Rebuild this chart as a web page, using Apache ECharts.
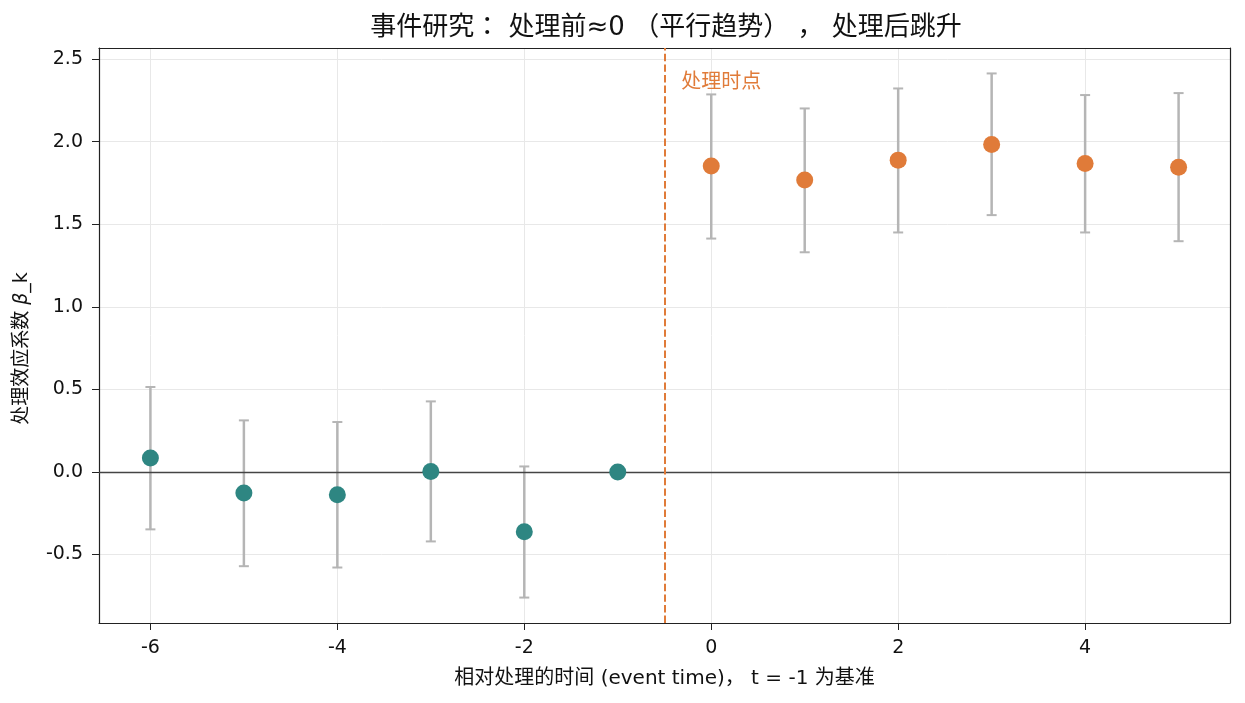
<!DOCTYPE html>
<html>
<head>
<meta charset="utf-8">
<script src="https://cdn.jsdelivr.net/npm/echarts@6/dist/echarts.min.js"></script>
<style>
  html, body { margin: 0; padding: 0; background: #fff; }
  #chart { width: 1245px; height: 703px; }
</style>
</head>
<body>
<div id="chart"></div>
<script>
// 事件时间与估计系数（t = -1 为基准）
const eventTimes = [-6, -5, -4, -3, -2, -1, 0, 1, 2, 3, 4, 5];
const coefs = [0.084, -0.128, -0.138, 0.003, -0.363, 0, 1.852, 1.767, 1.888, 1.983, 1.868, 1.845];
const ciLow = [-0.348, -0.571, -0.579, -0.421, -0.761, null, 1.413, 1.330, 1.450, 1.555, 1.450, 1.397];
const ciHigh = [0.514, 0.312, 0.302, 0.427, 0.033, null, 2.286, 2.201, 2.322, 2.413, 2.282, 2.294];
const xTicks = [-6, -4, -2, 0, 2, 4];
const yTicks = [-0.5, 0, 0.5, 1, 1.5, 2, 2.5];
const treatTime = -0.5;
const treatLabel = '处理时点';
const treatLabelPos = [-0.3, 2.3];

const FONT = '"DejaVu Sans", "Noto Sans CJK JP", sans-serif';
const TEAL = '#2e8682';
const ORANGE = '#e07b39';

const chart = echarts.init(document.getElementById('chart'));

const preData = [];
const postData = [];
const errData = [];
eventTimes.forEach((t, i) => {
  (t < 0 ? preData : postData).push([t, coefs[i]]);
  if (ciLow[i] !== null) errData.push([t, ciLow[i], ciHigh[i]]);
});

const boxAxis = {
  min: -6.55, max: 5.55,
  axisLine: { show: true, onZero: false, lineStyle: { color: '#222', width: 1.2 } },
  axisTick: { show: false }, axisLabel: { show: false }, splitLine: { show: false }
};

const option = {
  animation: false,
  textStyle: { fontFamily: FONT },
  title: {
    text: '事件研究： 处理前≈0 （平行趋势） ， 处理后跳升',
    left: 661, top: 10, textAlign: 'center',
    textStyle: { fontFamily: FONT, fontSize: 26, fontWeight: 'normal', color: '#111' }
  },
  grid: { left: 99, right: 15, top: 48, bottom: 80 },
  xAxis: [{
    type: 'value', min: -6.55, max: 5.55,
    name: '相对处理的时间 (event time)， t = -1 为基准',
    nameLocation: 'middle', nameGap: 46,
    nameTextStyle: { fontFamily: FONT, fontSize: 20, color: '#111' },
    axisLine: { show: true, onZero: false, lineStyle: { color: '#222', width: 1.2 } },
    axisTick: { show: true, length: 7, customValues: xTicks, lineStyle: { color: '#222' } },
    axisLabel: { customValues: xTicks, fontSize: 19, color: '#111', margin: 16 },
    splitLine: { show: true, lineStyle: { color: '#e8e8e8', width: 1 } }
  }, Object.assign({ type: 'value', position: 'top' }, boxAxis)],
  yAxis: [{
    type: 'value', min: -0.915, max: 2.567,
    name: '处理效应系数 {it|β}_k',
    nameLocation: 'middle', nameGap: 67,
    nameTextStyle: { fontFamily: FONT, fontSize: 19, color: '#111', padding: [0, 26, 0, 0],
      rich: { it: { fontStyle: 'italic', fontSize: 19, fontFamily: FONT } } },
    axisLine: { show: true, onZero: false, lineStyle: { color: '#222', width: 1.2 } },
    axisTick: { show: true, length: 7, customValues: yTicks, lineStyle: { color: '#222' } },
    axisLabel: { customValues: yTicks, fontSize: 19, color: '#111', margin: 16,
      formatter: v => v.toFixed(1) },
    splitLine: { show: true, lineStyle: { color: '#e8e8e8', width: 1 } }
  }, Object.assign({ type: 'value', position: 'right' }, boxAxis, { min: -0.915, max: 2.567 })],
  series: [
    {
      type: 'custom', name: 'ci', z: 2,
      encode: { x: 0, y: [1, 2] },
      data: errData,
      renderItem: (params, api) => {
        const x = api.value(0);
        const lo = api.coord([x, api.value(1)]);
        const hi = api.coord([x, api.value(2)]);
        const cap = 5;
        const style = { stroke: '#b5b5b5', lineWidth: 2.5 };
        return {
          type: 'group',
          children: [
            { type: 'line', shape: { x1: lo[0], y1: lo[1], x2: hi[0], y2: hi[1] }, style },
            { type: 'line', shape: { x1: lo[0] - cap, y1: lo[1], x2: lo[0] + cap, y2: lo[1] }, style: { stroke: '#b5b5b5', lineWidth: 2 } },
            { type: 'line', shape: { x1: hi[0] - cap, y1: hi[1], x2: hi[0] + cap, y2: hi[1] }, style: { stroke: '#b5b5b5', lineWidth: 2 } }
          ]
        };
      },
      markLine: {
        silent: true, symbol: 'none', label: { show: false },
        data: [
          { yAxis: 0, lineStyle: { color: '#444', width: 1.3, type: 'solid' } },
          { xAxis: treatTime, lineStyle: { color: ORANGE, width: 2, type: [7.4, 3.2] } }
        ]
      },
      markPoint: {
        silent: true, symbol: 'circle', symbolSize: 0,
        data: [{ coord: treatLabelPos, value: treatLabel }],
        label: {
          show: true, position: [-2, -19], formatter: treatLabel,
          color: ORANGE, fontSize: 20, fontFamily: FONT
        }
      }
    },
    {
      type: 'scatter', name: 'pre', z: 5, symbolSize: 17,
      itemStyle: { color: TEAL, opacity: 1 },
      data: preData
    },
    {
      type: 'scatter', name: 'post', z: 5, symbolSize: 17,
      itemStyle: { color: ORANGE, opacity: 1 },
      data: postData
    }
  ]
};

chart.setOption(option);
</script>
</body>
</html>
